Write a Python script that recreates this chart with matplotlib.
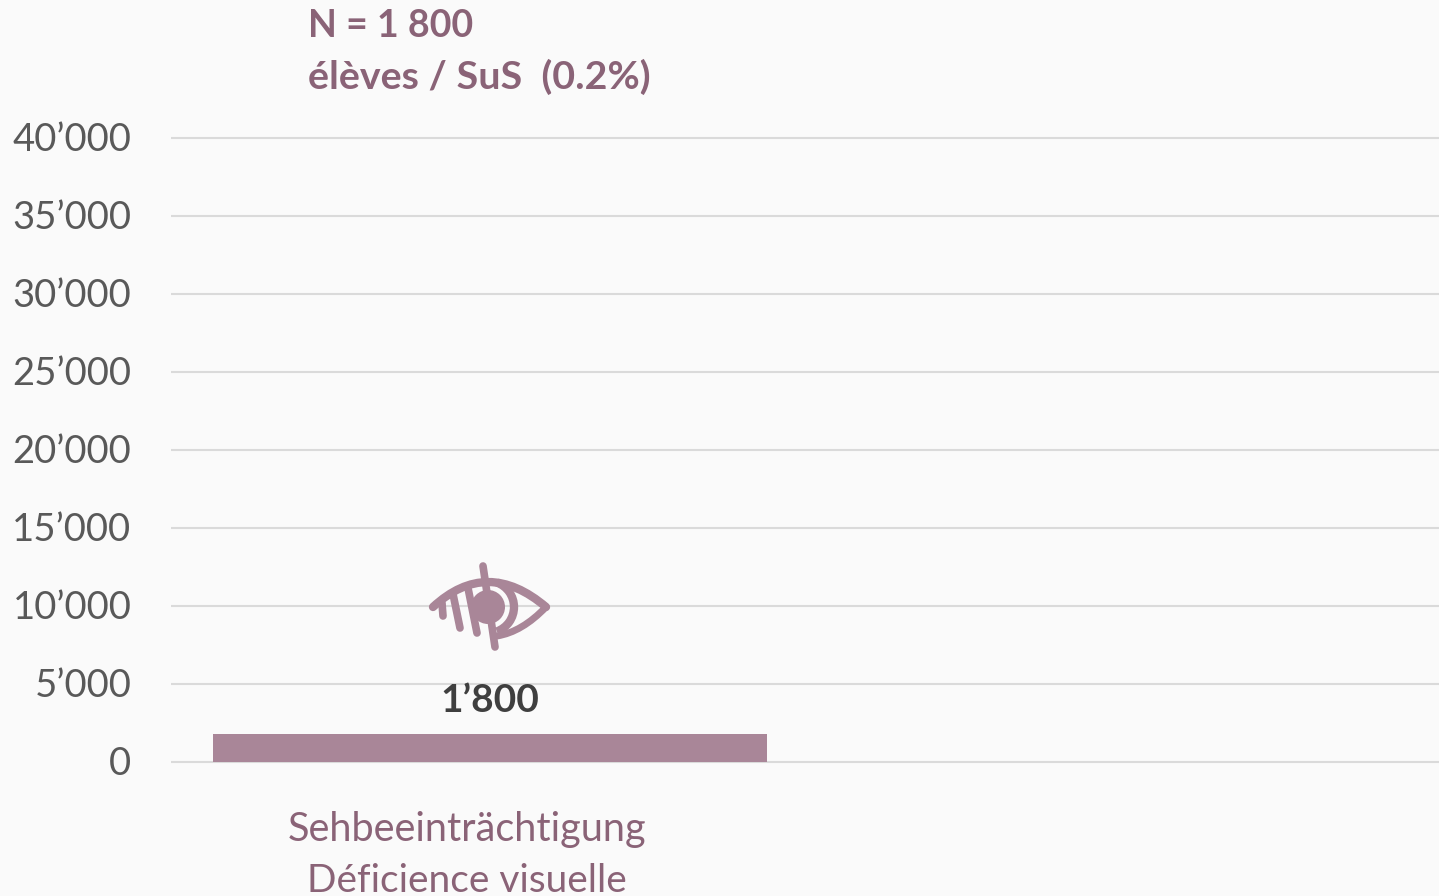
import matplotlib
matplotlib.use('Agg')
import matplotlib.pyplot as plt
from matplotlib.patches import Circle, Arc
from matplotlib.path import Path
from matplotlib.patches import PathPatch
from matplotlib.transforms import ScaledTranslation

################################################################################

categories = ["Sehbeeinträchtigung\nDéficience visuelle"]
values = [1800]
value_labels = ["1’800"]
yticks = [0, 5000, 10000, 15000, 20000, 25000, 30000, 35000, 40000]
yticklabels = ["0", "5’000", "10’000", "15’000", "20’000", "25’000", "30’000", "35’000", "40’000"]
title_lines = ["N = 1 800", "élèves / SuS  (0.2%)"]

BG = '#FAFAFA'
BAR = '#A98698'
TITLE = '#8A6377'

plt.rcParams['font.family'] = ['Lato', 'DejaVu Sans']

W, H = 1439, 896
fig = plt.figure(figsize=(W/100, H/100), dpi=100, facecolor=BG)

# axes placed on the pixel positions of the gridlines
ax = fig.add_axes([171/W, 1-762/H, (W-171)/W, (762-138)/H], facecolor=BG)
ax.set_ylim(0, 40000)
ax.set_xlim(-319/554, 949/554)
ax.bar(range(len(values)), values, width=1, color=BAR, zorder=3)
ax.set_yticks(yticks)
ax.set_yticklabels(yticklabels, fontsize=27.5, color='#595959')
ax.set_xticks([])
ax.tick_params(axis='y', length=0, pad=28.5)
ax.grid(True, axis='y', color='#DADADA', linewidth=1.5, zorder=1, clip_on=False, solid_capstyle='butt')
ax.set_axisbelow(True)
for s in ax.spines.values():
    s.set_visible(False)
for lab in ax.get_yticklabels():
    lab.set_transform(lab.get_transform() + ScaledTranslation(0, 2/100, fig.dpi_scale_trans))

for i in range(len(values)):
    ax.annotate(value_labels[i], (i, values[i]), xytext=(0, 11.5), textcoords='offset points',
                ha='center', va='bottom', fontsize=28, fontweight='bold', color='#3F3F3F', zorder=5)

# overlay in pixel coordinates for the texts and the icon
ov = fig.add_axes([0, 0, 1, 1], facecolor='none')
ov.set_xlim(0, W)
ov.set_ylim(H, 0)
ov.axis('off')

ov.text(308, 26, title_lines[0], fontsize=27, fontweight='bold', color=TITLE, ha='left', va='center')
ov.text(308, 77, title_lines[1], fontsize=28.4, fontweight='bold', color=TITLE, ha='left', va='center')

cat = categories[0].split('\n')
ov.text(467, 830, cat[0], fontsize=28.5, color=TITLE, ha='center', va='center')
ov.text(467, 881, cat[1], fontsize=28, color=TITLE, ha='center', va='center')


def trait(pts, codes=None, lw=5.5):
    '''trace un trait de l'icone'''
    ov.add_patch(PathPatch(Path(pts, codes), fc='none', ec=BAR, lw=lw, capstyle='round', joinstyle='round', zorder=6))


# oeil barre
C3 = Path.CURVE3
M = Path.MOVETO
L = Path.LINETO
trait([(433, 607), (487, 557), (546, 607)], [M, C3, C3], lw=6)
trait([(546, 607), (522, 632), (497, 636)], [M, C3, C3], lw=5)
trait([(483, 566), (495, 647)])
trait([(442, 603), (443, 616)])
trait([(453, 594), (460, 628)])
trait([(468, 588), (477, 633)])
ov.add_patch(Circle((488, 607), 17, fc=BAR, ec='none', zorder=6))
ov.add_patch(Arc((488, 607), 52, 52, theta1=-70, theta2=70, ec=BAR, lw=6, zorder=6))

fig.savefig('out.png', dpi=100, facecolor=BG)
